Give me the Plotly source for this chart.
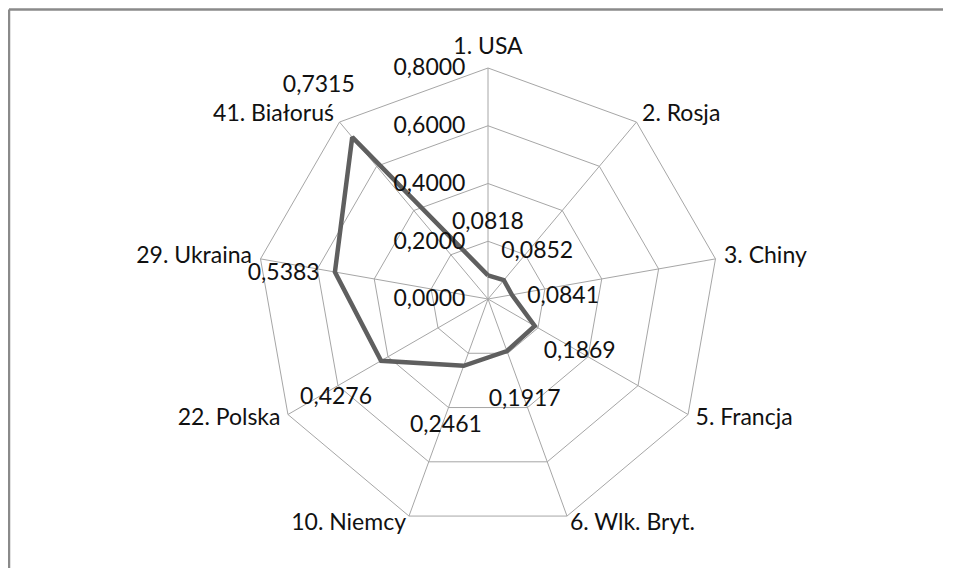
import plotly.graph_objects as go

categories = ["1. USA", "2. Rosja", "3. Chiny", "5. Francja", "6. Wlk. Bryt.",
              "10. Niemcy", "22. Polska", "29. Ukraina", "41. Białoruś"]
values = [0.0818, 0.0852, 0.0841, 0.1869, 0.1917, 0.2461, 0.4276, 0.5383, 0.7315]
value_labels = ["0,0818", "0,0852", "0,0841", "0,1869", "0,1917",
                "0,2461", "0,4276", "0,5383", "0,7315"]
radial_ticks = [0.0, 0.2, 0.4, 0.6, 0.8]
r_max = 0.8

FONT = "Lato"
FS = 23
TXT = "#111111"
GRID = "#a6a6a6"
LABEL_OFFSET = 0.18
CAT_PAD = 0.03
OVER = 1.16  # label layer extends beyond the chart radius by this factor

value_pos = ["middle center", "bottom center", "bottom center", "middle center",
             "middle center", "bottom center", "bottom center", "bottom center",
             "top center"]
cat_pos = ["top center", "middle right", "middle right", "middle right", "middle right",
           "middle left", "middle left", "middle left", "middle left"]

fig = go.Figure()
fig.add_trace(go.Scatterpolar(
    r=values + values[:1],
    theta=categories + categories[:1],
    mode="lines",
    line=dict(color="#5f5f5f", width=4.5),
    hoverinfo="skip",
    showlegend=False,
    subplot="polar",
))
# category names just outside the outer ring vertices
fig.add_trace(go.Scatterpolar(
    r=[r_max + CAT_PAD] * len(categories),
    theta=categories,
    mode="text",
    text=categories,
    textposition=cat_pos,
    textfont=dict(family=FONT, size=FS, color=TXT),
    cliponaxis=False,
    hoverinfo="skip",
    showlegend=False,
    subplot="polar2",
))
# value labels (label layer shares centre and scale with the chart)
fig.add_trace(go.Scatterpolar(
    r=[v + LABEL_OFFSET for v in values],
    theta=categories,
    mode="text",
    text=value_labels,
    textposition=value_pos,
    textfont=dict(family=FONT, size=FS, color=TXT),
    cliponaxis=False,
    hoverinfo="skip",
    showlegend=False,
    subplot="polar2",
))

# page body has an 8px margin; work in figure pixels
W, H = 935, 560
cx, cy, R = 480, 291, 231
R2 = R * OVER
ang = dict(direction="clockwise", rotation=90, categoryorder="array",
           categoryarray=categories)
fig.update_layout(
    width=W, height=H,
    margin=dict(l=0, r=0, t=0, b=0),
    paper_bgcolor="white",
    separators=", ",
    font=dict(family=FONT, size=FS, color=TXT),
    polar=dict(
        domain=dict(x=[(cx - R) / W, (cx + R) / W],
                    y=[(H - cy - R) / H, (H - cy + R) / H]),
        bgcolor="white",
        gridshape="linear",
        radialaxis=dict(
            range=[0, r_max],
            tickvals=radial_ticks,
            tickformat=".4f",
            angle=90,
            tickangle=90,
            side="counterclockwise",
            showline=False,
            ticks="outside",
            ticklen=14,
            tickcolor="rgba(0,0,0,0)",
            gridcolor=GRID,
            gridwidth=1,
            tickfont=dict(family=FONT, size=FS, color=TXT),
        ),
        angularaxis=dict(
            **ang,
            showline=True,
            linecolor=GRID,
            linewidth=1,
            gridcolor=GRID,
            gridwidth=1,
            ticks="",
            showticklabels=False,
        ),
    ),
    polar2=dict(
        domain=dict(x=[(cx - R2) / W, (cx + R2) / W],
                    y=[(H - cy - R2) / H, (H - cy + R2) / H]),
        bgcolor="rgba(0,0,0,0)",
        gridshape="linear",
        radialaxis=dict(range=[0, r_max * OVER], visible=False),
        angularaxis=dict(**ang, visible=False),
    ),
    shapes=[
        dict(type="line", xref="paper", yref="paper",
             x0=1 / W, x1=1.0, y0=(H - 1.5) / H, y1=(H - 1.5) / H,
             line=dict(color="#8a8a8a", width=2.5)),
        dict(type="line", xref="paper", yref="paper",
             x0=1 / W, x1=1 / W, y0=0, y1=(H - 1.5) / H,
             line=dict(color="#8a8a8a", width=2.5)),
    ],
)

fig.write_html("out.html", config=dict(displayModeBar=False))
